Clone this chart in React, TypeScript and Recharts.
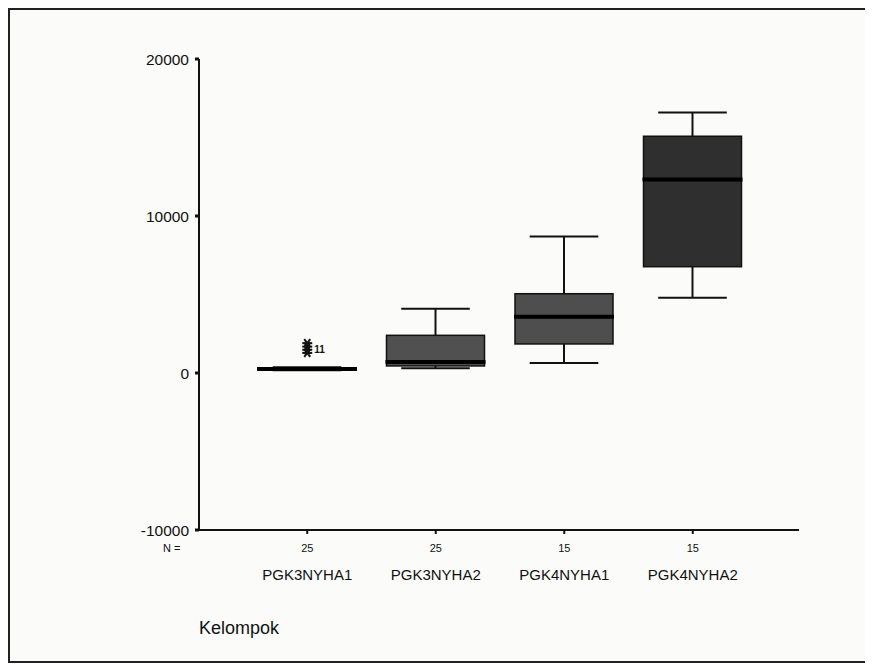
import { Bar, ComposedChart, Scatter, XAxis, YAxis } from 'recharts'

const groups = ['PGK3NYHA1', 'PGK3NYHA2', 'PGK4NYHA1', 'PGK4NYHA2']
const counts = [25, 25, 15, 15]
const mins = [180, 300, 640, 4790]
const q1s = [220, 450, 1850, 6770]
const medians = [260, 700, 3580, 12330]
const q3s = [320, 2400, 5050, 15080]
const maxs = [360, 4100, 8700, 16600]

// extreme values of the first group (starred in the original)
const outlierValues = [1280, 1480, 1680, 1900]
const outlierIds = ['', '', '11', '']

const yTicks = [-10000, 0, 10000, 20000]
const boxFills = ['#3a3a3a', '#505050', '#4e4e4e', '#2f2f2f']

const data = groups.map((g, i) => {
  const row: any = {
    group: g,
    n: counts[i],
    min: mins[i],
    q1: q1s[i],
    median: medians[i],
    q3: q3s[i],
    max: maxs[i],
    fill: boxFills[i],
  }
  outlierValues.forEach((v, k) => {
    row['out' + k] = i === 0 ? v : null
  })
  return row
})

const font = 'Arial, "Liberation Sans", sans-serif'

function BoxShape(props: any) {
  const { x, y, width, height, payload } = props
  const top = Math.min(y, y + height)
  const bottom = Math.max(y, y + height)
  const span = payload.max - payload.min || 1
  const py = (v: number) => bottom - ((v - payload.min) / span) * (bottom - top)
  const cx = x + width / 2
  const cap = width * 0.7
  const yq1 = py(payload.q1)
  const yq3 = py(payload.q3)
  const ymed = py(payload.median)
  return (
    <g>
      <line x1={cx} x2={cx} y1={py(payload.max)} y2={yq3} stroke="#111" strokeWidth={2} />
      <line x1={cx} x2={cx} y1={yq1} y2={py(payload.min)} stroke="#111" strokeWidth={2} />
      <line x1={cx - cap / 2} x2={cx + cap / 2} y1={py(payload.max)} y2={py(payload.max)} stroke="#111" strokeWidth={2} />
      <line x1={cx - cap / 2} x2={cx + cap / 2} y1={py(payload.min)} y2={py(payload.min)} stroke="#111" strokeWidth={2} />
      <rect x={x} y={yq3} width={width} height={Math.max(yq1 - yq3, 1)} fill={payload.fill} stroke="#111" strokeWidth={1.5} />
      <line x1={x - 1} x2={x + width + 1} y1={ymed} y2={ymed} stroke="#000" strokeWidth={4} />
    </g>
  )
}

function makeStar(k: number) {
  return function Star(props: any) {
    const { cx, cy } = props
    if (!Number.isFinite(cx) || !Number.isFinite(cy) || props.payload?.['out' + k] == null) return <g />
    const r = 5
    const id = outlierIds[k]
    return (
      <g stroke="#111" strokeWidth={2}>
        <line x1={cx - r} x2={cx + r} y1={cy} y2={cy} />
        <line x1={cx - r * 0.6} x2={cx + r * 0.6} y1={cy - r * 0.8} y2={cy + r * 0.8} />
        <line x1={cx + r * 0.6} x2={cx - r * 0.6} y1={cy - r * 0.8} y2={cy + r * 0.8} />
        {id ? (
          <text x={cx + 7} y={cy + 6} fontSize={10} fontFamily={font} fill="#111" stroke="none" fontWeight="bold">
            {id}
          </text>
        ) : null}
      </g>
    )
  }
}

function GroupTick(props: any) {
  const { x, y, payload, index } = props
  return (
    <g>
      <text x={x} y={y + 16} textAnchor="middle" fontSize={11} fontFamily={font} fill="#111">
        {counts[index]}
      </text>
      <text x={x} y={y + 44} textAnchor="middle" fontSize={15} fontFamily={font} fill="#111">
        {payload.value}
      </text>
    </g>
  )
}

export default function App() {
  return (
    <div
      style={{
        position: 'relative',
        width: 855,
        height: 651,
        border: '2px solid #222',
        background: '#fbfbf9',
        fontFamily: font,
      }}
    >
      <ComposedChart
        width={855}
        height={651}
        data={data}
        margin={{ top: 49, right: 66, left: 129, bottom: 71 }}
        barSize={98}
      >
        <XAxis
          dataKey="group"
          tick={<GroupTick />}
          tickLine={{ stroke: '#111', strokeWidth: 2 }}
          tickSize={4}
          axisLine={{ stroke: '#111', strokeWidth: 2 }}
          height={60}
          interval={0}
          padding={{ left: 44, right: 42 }}
        />
        <XAxis xAxisId="top" orientation="top" dataKey="group" tick={false} tickLine={false} height={0} axisLine={{ stroke: '#111', strokeWidth: 1 }} />
        <YAxis
          domain={[-10000, 20000]}
          ticks={yTicks}
          allowDataOverflow
          width={60}
          tickSize={4}
          tickMargin={6}
          tickLine={{ stroke: '#111', strokeWidth: 3 }}
          axisLine={{ stroke: '#111', strokeWidth: 2 }}
          tick={{ fontSize: 15.5, fill: '#111', fontFamily: font }}
        />
        <YAxis yAxisId="right" orientation="right" domain={[0, 1]} tick={false} tickLine={false} width={0} axisLine={{ stroke: '#111', strokeWidth: 1.5 }} />
        <Bar dataKey={(d: any) => [d.min, d.max]} shape={<BoxShape />} isAnimationActive={false} />
        {outlierValues.map((_, k) => (
          <Scatter key={k} dataKey={'out' + k} shape={makeStar(k)} isAnimationActive={false} />
        ))}
      </ComposedChart>
      <div style={{ position: 'absolute', left: 153, top: 532, fontSize: 11, color: '#111' }}>N =</div>
      <div style={{ position: 'absolute', left: 189, top: 608, fontSize: 18, color: '#111' }}>Kelompok</div>
    </div>
  )
}
